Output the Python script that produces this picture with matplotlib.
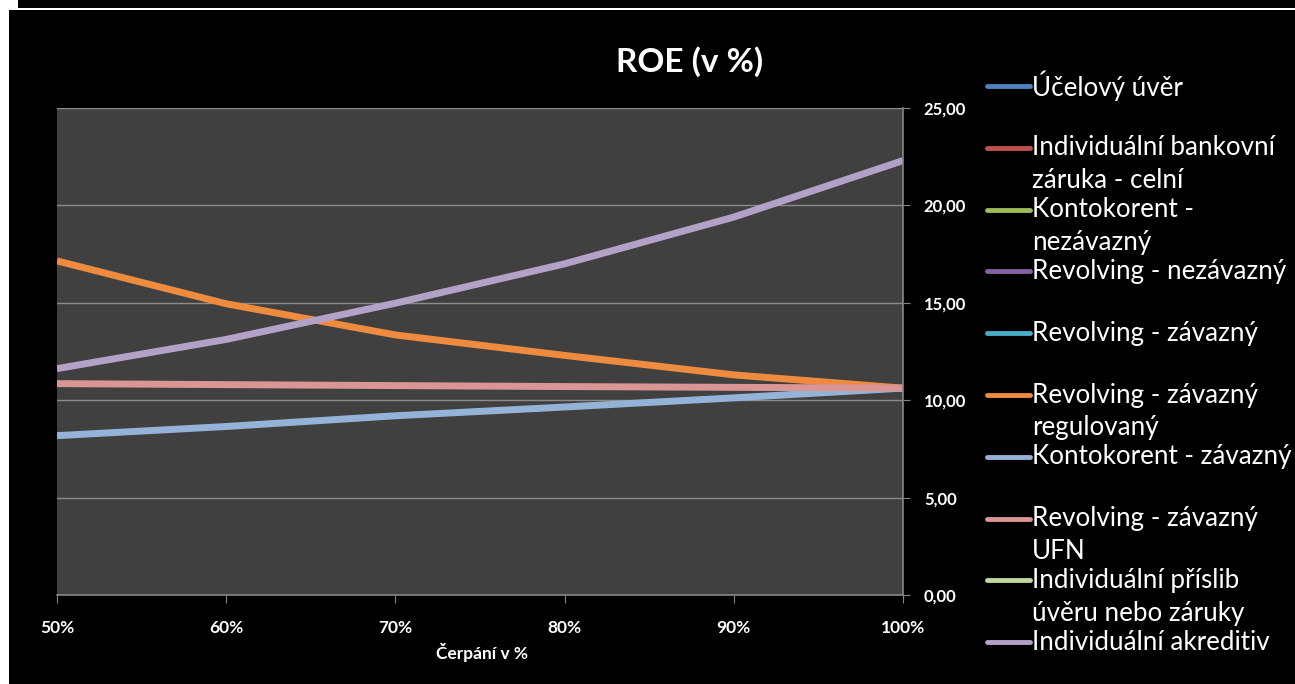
import numpy as np
import matplotlib
matplotlib.use("Agg")
import matplotlib.pyplot as plt
from matplotlib.lines import Line2D
from matplotlib.patches import Rectangle

plt.rcParams['font.family'] = ['Lato', 'DejaVu Sans']

# utilisation levels (x axis)
cerpani = [50, 60, 70, 80, 90, 100]

# ROE in % per product; series without values stay empty
ucelovy_uver = [np.nan] * 6
zaruka_celni = [np.nan] * 6
kontokorent_nezavazny = [np.nan] * 6
revolving_nezavazny = [np.nan] * 6
revolving_zavazny = [np.nan] * 6
revolving_regulovany = [17.15, 14.95, 13.35, 12.3, 11.3, 10.62]
kontokorent_zavazny = [8.18, 8.65, 9.2, 9.65, 10.12, 10.62]
revolving_ufn = [10.85, 10.8, 10.75, 10.7, 10.66, 10.62]
prislib = [np.nan] * 6
akreditiv = [11.62, 13.12, 14.98, 17.0, 19.4, 22.3]

series = [
    ("Účelový úvěr", ucelovy_uver, "#4F81BD"),
    ("Individuální bankovní\nzáruka - celní", zaruka_celni, "#C0504D"),
    ("Kontokorent -\nnezávazný", kontokorent_nezavazny, "#9BBB59"),
    ("Revolving - nezávazný", revolving_nezavazny, "#8064A2"),
    ("Revolving - závazný", revolving_zavazny, "#4BACC6"),
    ("Revolving - závazný\nregulovaný", revolving_regulovany, "#EE8B3E"),
    ("Kontokorent - závazný", kontokorent_zavazny, "#95B3D7"),
    ("Revolving - závazný\nUFN", revolving_ufn, "#D99694"),
    ("Individuální příslib\núvěru nebo záruky", prislib, "#C3D69B"),
    ("Individuální akreditiv", akreditiv, "#B3A2C7"),
]

W, H = 1295, 684
fig = plt.figure(figsize=(W / 100, H / 100), dpi=100, facecolor='white')


def px(x, y):
    return x / W, 1 - y / H


# slide background: black panel with a thin white rule at the top
fig.patches.append(Rectangle(px(18, 8), (W - 18) / W, 8 / H, transform=fig.transFigure,
                             facecolor='black', edgecolor='none', zorder=-10))
fig.patches.append(Rectangle(px(9, H), (W - 9) / W, (H - 10) / H, transform=fig.transFigure,
                             facecolor='black', edgecolor='none', zorder=-10))

ax = fig.add_axes([57 / W, 1 - 595 / H, (903 - 57) / W, (595 - 108) / H])
ax.set_facecolor('#404040')

for label, vals, color in series:
    ax.plot(cerpani, vals, color=color, lw=5, solid_capstyle='butt', label=label)

ax.set_xlim(50, 100)
ax.set_ylim(0, 25)
ax.set_xticks(cerpani)
ax.set_xticklabels([f"{v}%" for v in cerpani])
ax.set_yticks(np.arange(0, 26, 5))
ax.set_yticklabels([f"{v:.2f}".replace('.', ',') for v in np.arange(0, 26, 5)])
ax.yaxis.tick_right()
ax.grid(axis='y', color='#8C8C8C', lw=1)
ax.set_axisbelow(True)

for side in ('left', 'top'):
    ax.spines[side].set_visible(False)
for side in ('bottom', 'right'):
    ax.spines[side].set_color('#868686')
    ax.spines[side].set_linewidth(1.2)

ax.tick_params(axis='x', colors='#868686', length=6, direction='out', pad=12,
               labelcolor='white', labelsize=12.5)
ax.tick_params(axis='y', colors='#868686', length=5, direction='out', pad=10,
               labelcolor='white', labelsize=12)
for t in ax.get_xticklabels() + ax.get_yticklabels():
    t.set_fontweight('bold')

fig.text(*px(482, 652), "Čerpání v %", color='white', fontsize=12.5, fontweight='bold',
         ha='center', va='center')
fig.text(*px(690, 62), "ROE (v %)", color='white', fontsize=24, fontweight='bold',
         ha='center', va='center')

# legend on the right, one slot every ~62 px
for i, (label, vals, color) in enumerate(series):
    y = 86 + 61.8 * i
    fig.add_artist(Line2D([987 / W, 1030 / W], [1 - y / H] * 2, transform=fig.transFigure,
                          color=color, lw=3.5, solid_capstyle='round'))
    for j, line in enumerate(label.split('\n')):
        fig.text(*px(1032, y + 33 * j), line, color='white', fontsize=18.7,
                 ha='left', va='center')

fig.savefig("out.png", dpi=100, facecolor=fig.get_facecolor())
